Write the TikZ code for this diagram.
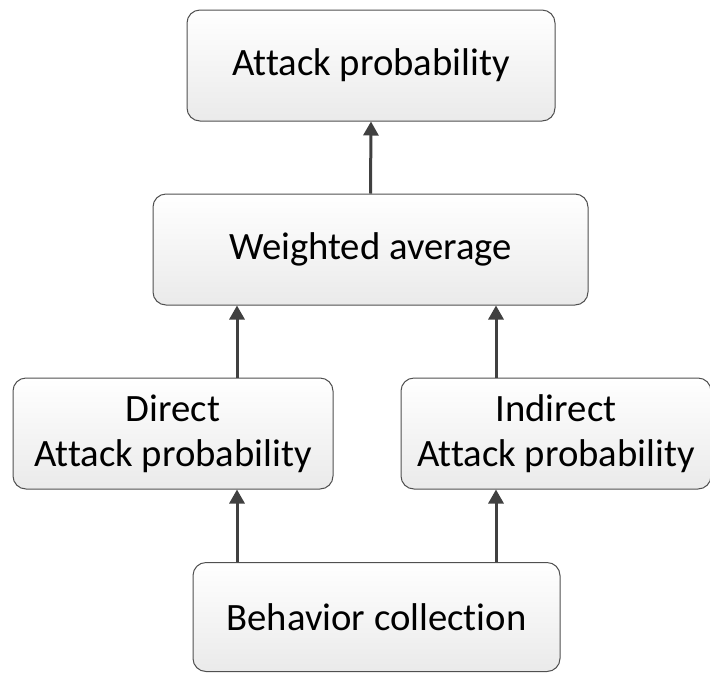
\documentclass[tikz,border=0pt]{standalone}
\usepackage{fontspec}
\setmainfont{Carlito}[Ligatures={NoCommon,NoContextual}]
\usetikzlibrary{arrows.meta}
\definecolor{edgegray}{HTML}{505050}
\definecolor{arrowgray}{HTML}{404040}
\definecolor{fillbot}{HTML}{EAEAEA}
\tikzset{
  box/.style={draw=edgegray, line width=1pt, rounded corners=13pt,
    top color=white, bottom color=fillbot, shading angle=0,
    align=center, inner sep=0pt, text=black,
    font=\fontsize{38.7}{45}\selectfont},
  link/.style={draw=arrowgray, line width=3pt,
    -{Triangle[width=15pt,length=14pt]}}
}
\begin{document}
\begin{tikzpicture}[x=1pt,y=-1pt]
\useasboundingbox (0,0) rectangle (710,673);
\node[box, minimum width=368pt, minimum height=111pt] (top) at (371,65.5) {Attack probability};
\node[box, minimum width=435pt, minimum height=111pt] (wavg) at (370.5,249.5) {Weighted average};
\node[box, minimum width=320pt, minimum height=111pt] (direct) at (173,433.5) {Direct\\Attack probability};
\node[box, minimum width=310pt, minimum height=111pt] (indirect) at (556,433.5) {Indirect\\Attack probability};
\node[box, minimum width=367pt, minimum height=109pt] (behav) at (376.5,617) {Behavior collection};
\coordinate (cl) at (237,0);
\coordinate (cr) at (496,0);
\draw[link] (wavg.north) -- (top.south);
\draw[link] (direct.north -| cl) -- (wavg.south -| cl);
\draw[link] (indirect.north -| cr) -- (wavg.south -| cr);
\draw[link] (behav.north -| cl) -- (direct.south -| cl);
\draw[link] (behav.north -| cr) -- (indirect.south -| cr);
\end{tikzpicture}
\end{document}
